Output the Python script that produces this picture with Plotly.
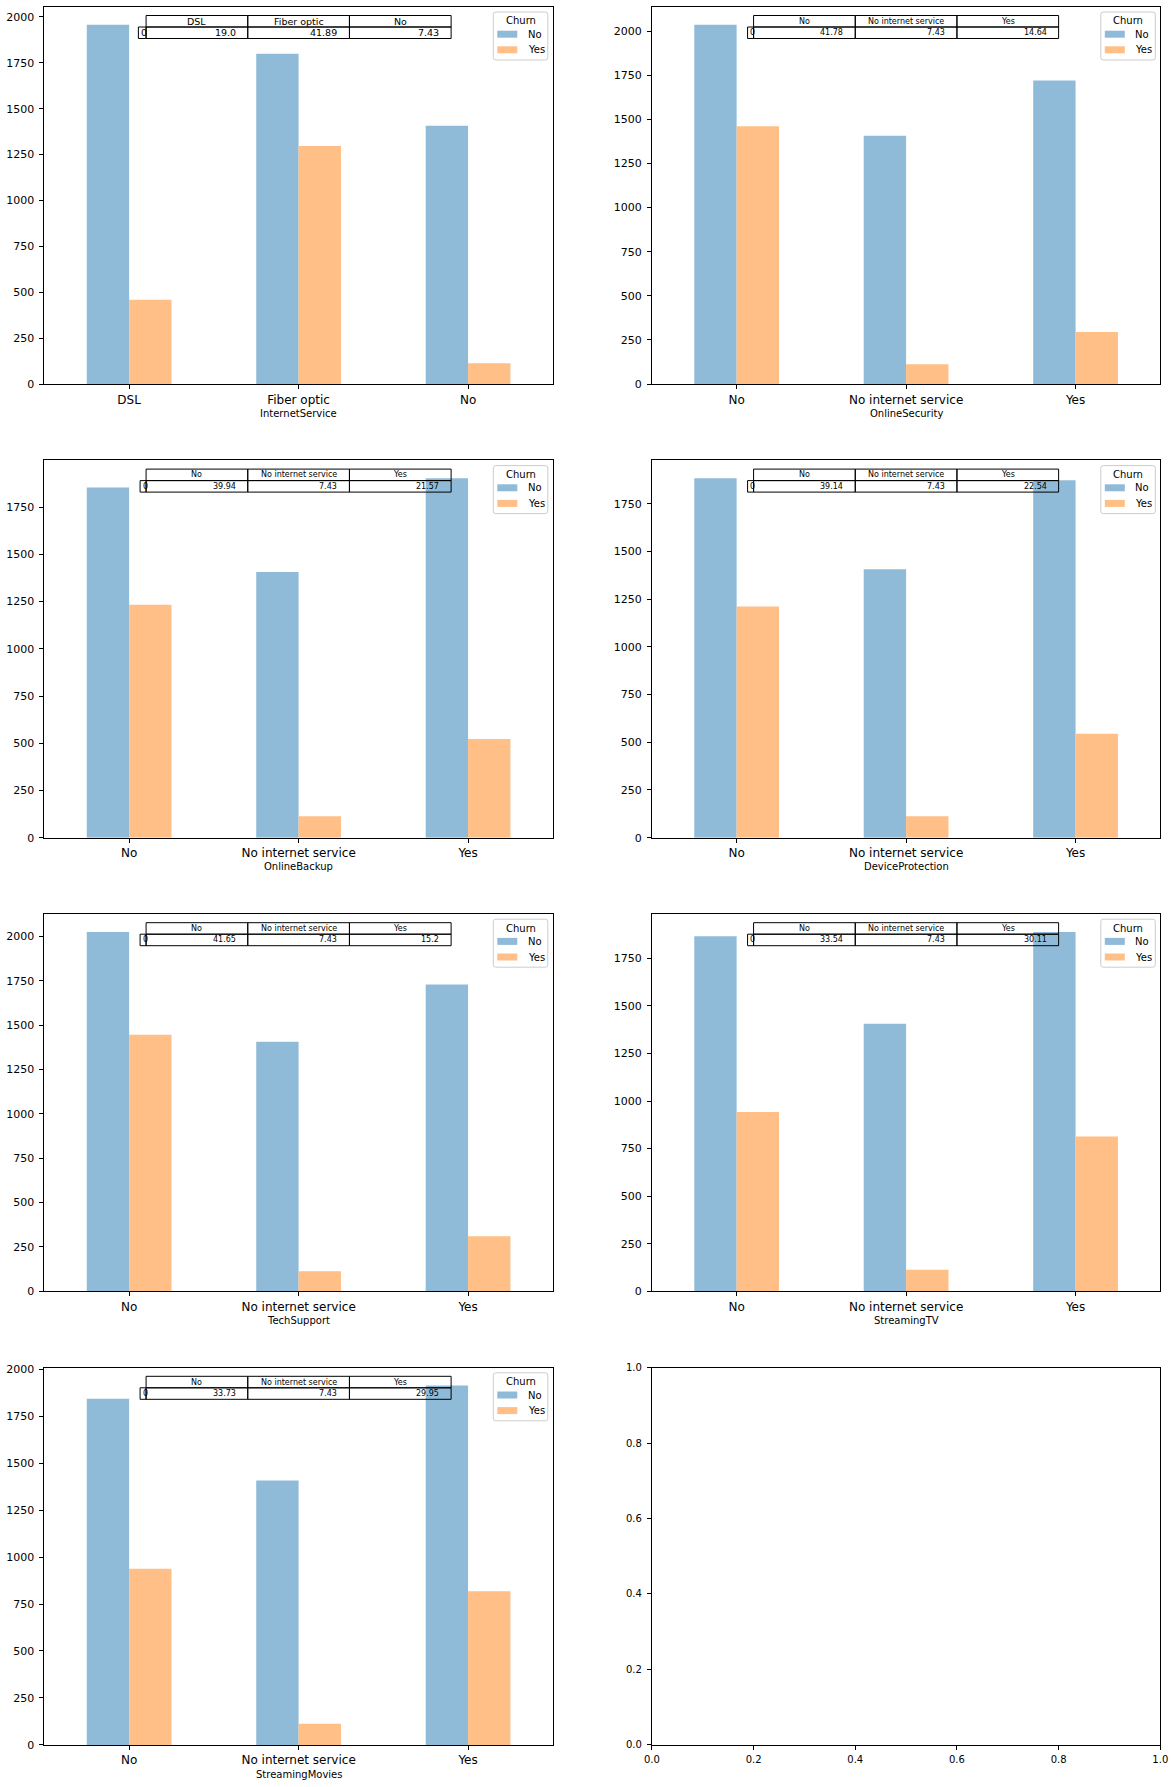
import plotly.graph_objects as go

# ---------------- data ----------------
features = ["InternetService", "OnlineSecurity", "OnlineBackup", "DeviceProtection",
            "TechSupport", "StreamingTV", "StreamingMovies"]

internet_categories = ["DSL", "Fiber optic", "No"]
addon_categories = ["No", "No internet service", "Yes"]

series_names = ["No", "Yes"]
legend_title = "Churn"

internetservice_no = [1957, 1799, 1407]
internetservice_yes = [459, 1297, 113]
internetservice_pct = [19.0, 41.89, 7.43]

onlinesecurity_no = [2036, 1407, 1720]
onlinesecurity_yes = [1461, 113, 295]
onlinesecurity_pct = [41.78, 7.43, 14.64]

onlinebackup_no = [1854, 1407, 1902]
onlinebackup_yes = [1233, 113, 523]
onlinebackup_pct = [39.94, 7.43, 21.57]

deviceprotection_no = [1883, 1407, 1873]
deviceprotection_yes = [1211, 113, 545]
deviceprotection_pct = [39.14, 7.43, 22.54]

techsupport_no = [2026, 1407, 1730]
techsupport_yes = [1446, 113, 310]
techsupport_pct = [41.65, 7.43, 15.2]

streamingtv_no = [1867, 1407, 1889]
streamingtv_yes = [942, 113, 814]
streamingtv_pct = [33.54, 7.43, 30.11]

streamingmovies_no = [1843, 1407, 1913]
streamingmovies_yes = [938, 113, 818]
streamingmovies_pct = [33.73, 7.43, 29.95]

empty_ticks = [0.0, 0.2, 0.4, 0.6, 0.8, 1.0]

panels = [
    (features[0], internet_categories, internetservice_no, internetservice_yes, internetservice_pct),
    (features[1], addon_categories, onlinesecurity_no, onlinesecurity_yes, onlinesecurity_pct),
    (features[2], addon_categories, onlinebackup_no, onlinebackup_yes, onlinebackup_pct),
    (features[3], addon_categories, deviceprotection_no, deviceprotection_yes, deviceprotection_pct),
    (features[4], addon_categories, techsupport_no, techsupport_yes, techsupport_pct),
    (features[5], addon_categories, streamingtv_no, streamingtv_yes, streamingtv_pct),
    (features[6], addon_categories, streamingmovies_no, streamingmovies_yes, streamingmovies_pct),
]

# ---------------- layout constants ----------------
W, H = 1175, 1787
COL_LEFT = [44.4, 651.9]
AX_W = 508.4
ROW_TOP = [6.8, 460.4, 914.0, 1367.6]
AX_H = 377.3
C_NO = "#8fbbd9"
C_YES = "#ffbf86"
FONT = "DejaVu Sans"


def px(x):
    return x / W


def py(y):
    return 1 - y / H


def rounded_rect_path(x0, y0, x1, y1, rad):
    # pixel coords (y downward) -> SVG path in paper coords
    pts = []
    pts.append(f"M {px(x0 + rad)},{py(y0)}")
    pts.append(f"L {px(x1 - rad)},{py(y0)}")
    pts.append(f"Q {px(x1)},{py(y0)} {px(x1)},{py(y0 + rad)}")
    pts.append(f"L {px(x1)},{py(y1 - rad)}")
    pts.append(f"Q {px(x1)},{py(y1)} {px(x1 - rad)},{py(y1)}")
    pts.append(f"L {px(x0 + rad)},{py(y1)}")
    pts.append(f"Q {px(x0)},{py(y1)} {px(x0)},{py(y1 - rad)}")
    pts.append(f"L {px(x0)},{py(y0 + rad)}")
    pts.append(f"Q {px(x0)},{py(y0)} {px(x0 + rad)},{py(y0)}")
    pts.append("Z")
    return " ".join(pts)


fig = go.Figure()
shapes = []
annotations = []

axis_common = dict(showline=True, mirror=True, linecolor="black", linewidth=1,
                   ticks="outside", ticklen=4, tickwidth=1, tickcolor="black",
                   showgrid=False, zeroline=False, fixedrange=True, automargin=False)

for i in range(8):
    r, c = divmod(i, 2)
    L, T = COL_LEFT[c], ROW_TOP[r]
    n = i + 1
    xa = "x" if n == 1 else f"x{n}"
    ya = "y" if n == 1 else f"y{n}"
    xdom = [px(L), px(L + AX_W)]
    ydom = [py(T + AX_H), py(T)]

    if i == 7:
        fig.add_trace(go.Scatter(x=[None], y=[None], mode="markers", xaxis=xa, yaxis=ya,
                                 showlegend=False, hoverinfo="skip"))
        fig.update_layout({
            f"xaxis{n}": dict(domain=xdom, anchor=ya, range=[0, 1], tickvals=empty_ticks,
                              tickformat=".1f", ticklabelstandoff=1,
                              tickfont=dict(size=10, color="black"), **axis_common),
            f"yaxis{n}": dict(domain=ydom, anchor=xa, range=[0, 1], tickvals=empty_ticks,
                              tickformat=".1f", ticklabelstandoff=3,
                              tickfont=dict(size=10, color="black"), **axis_common),
        })
        continue

    feat, cats, no_vals, yes_vals, pct = panels[i]
    fig.add_trace(go.Bar(x=cats, y=no_vals, name=series_names[0], marker=dict(color=C_NO, line=dict(width=0)),
                         xaxis=xa, yaxis=ya, showlegend=False, offsetgroup="a"))
    fig.add_trace(go.Bar(x=cats, y=yes_vals, name=series_names[1], marker=dict(color=C_YES, line=dict(width=0)),
                         xaxis=xa, yaxis=ya, showlegend=False, offsetgroup="b"))
    ymax = 1.05 * max(max(no_vals), max(yes_vals))
    fig.update_layout({
        f"xaxis{n}": dict(domain=xdom, anchor=ya, type="category", range=[-0.5, 2.5],
                          ticklabelstandoff=0,
                          tickfont=dict(size=12, color="black"), **axis_common),
        f"yaxis{n}": dict(domain=ydom, anchor=xa, range=[0, ymax], tick0=0, dtick=250,
                          ticklabelstandoff=3,
                          tickfont=dict(size=11, color="black"), **axis_common),
    })

    # x-axis title
    annotations.append(dict(text=feat, x=px(L + AX_W / 2), y=py(T + AX_H + 29.2), xref="paper", yref="paper",
                            xanchor="center", yanchor="middle", showarrow=False,
                            font=dict(size=10, color="black", family=FONT)))

    # ---- table ----
    tfont = 9.5 if i == 0 else 8
    lab_w = 7.7 if i == 0 else 6.0
    cx = [L + AX_W * f for f in (0.2, 0.4, 0.6, 0.8)]
    yt, ym, yb = T + 8.7, T + 20.2, T + 31.7
    line = dict(color="black", width=1)
    for k in range(3):
        shapes.append(dict(type="rect", xref="paper", yref="paper", x0=px(cx[k]), x1=px(cx[k + 1]),
                           y0=py(ym), y1=py(yt), line=line, layer="above"))
        shapes.append(dict(type="rect", xref="paper", yref="paper", x0=px(cx[k]), x1=px(cx[k + 1]),
                           y0=py(yb), y1=py(ym), line=line, layer="above"))
        annotations.append(dict(text=cats[k], x=px((cx[k] + cx[k + 1]) / 2), y=py((yt + ym) / 2),
                                xref="paper", yref="paper", xanchor="center", yanchor="middle",
                                showarrow=False, font=dict(size=tfont, color="black", family=FONT)))
        annotations.append(dict(text=str(pct[k]), x=px(cx[k + 1] - 10), y=py((ym + yb) / 2),
                                xref="paper", yref="paper", xanchor="right", yanchor="middle",
                                showarrow=False, font=dict(size=tfont, color="black", family=FONT)))
    shapes.append(dict(type="rect", xref="paper", yref="paper", x0=px(cx[0] - lab_w), x1=px(cx[0]),
                       y0=py(yb), y1=py(ym), line=line, layer="above"))
    annotations.append(dict(text="0", x=px(cx[0] - lab_w + 0.5), y=py((ym + yb) / 2),
                            xref="paper", yref="paper", xanchor="left", yanchor="middle",
                            showarrow=False, font=dict(size=tfont, color="black", family=FONT)))

    # ---- legend ----
    R = L + AX_W
    shapes.append(dict(type="path", xref="paper", yref="paper",
                       path=rounded_rect_path(R - 59.5, T + 5.2, R - 5, T + 53.2, 2.5),
                       line=dict(color="#cccccc", width=1),
                       fillcolor="rgba(255,255,255,0.8)", layer="above"))
    annotations.append(dict(text=legend_title, x=px(R - 32.2), y=py(T + 14.2), xref="paper", yref="paper",
                            xanchor="center", yanchor="middle", showarrow=False,
                            font=dict(size=10, color="black", family=FONT)))
    for k, (nm, col) in enumerate(zip(series_names, [C_NO, C_YES])):
        yc = T + 27.4 + 15.6 * k
        shapes.append(dict(type="rect", xref="paper", yref="paper", x0=px(R - 55.5), x1=px(R - 35.5),
                           y0=py(yc + 3.5), y1=py(yc - 3.5), line=dict(width=0), fillcolor=col, layer="above"))
        annotations.append(dict(text=nm, x=px(R - 27.3), y=py(yc), xref="paper", yref="paper",
                                xanchor="left", yanchor="middle", showarrow=False,
                                font=dict(size=10, color="black", family=FONT)))

fig.update_layout(
    width=W, height=H, margin=dict(l=0, r=0, t=0, b=0, autoexpand=False),
    paper_bgcolor="white", plot_bgcolor="white",
    barmode="group", bargap=0.5, bargroupgap=0,
    font=dict(family=FONT, color="black"),
    showlegend=False,
    shapes=shapes, annotations=annotations,
)

fig.write_html("out.html", config={"displayModeBar": False},
               post_script="document.body.style.margin='0';document.body.style.overflow='hidden';")
